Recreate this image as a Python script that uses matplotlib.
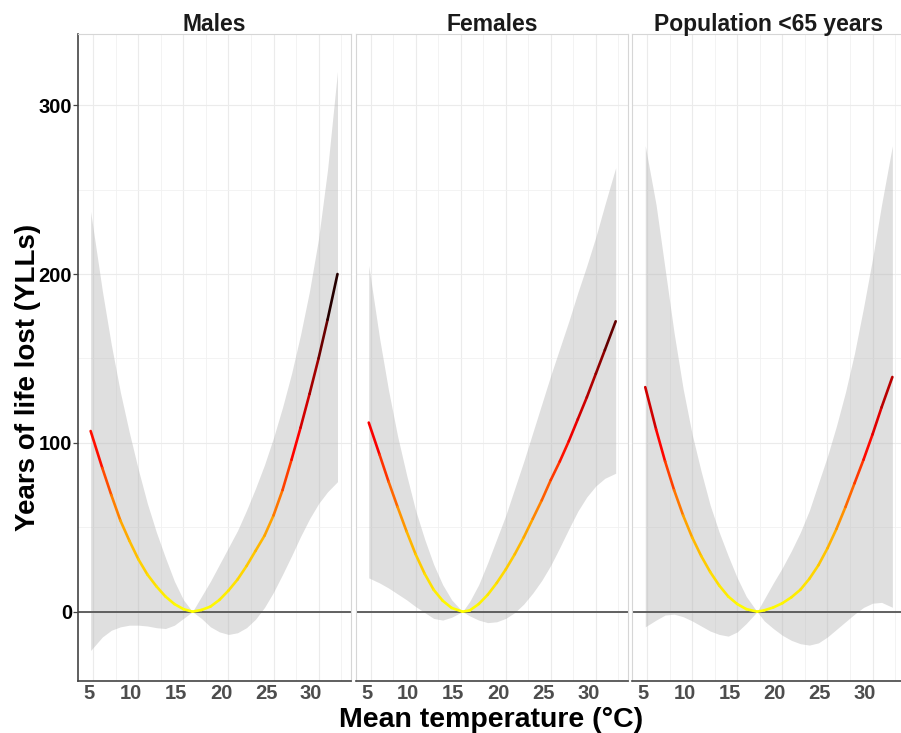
import numpy as np
import matplotlib
matplotlib.use('Agg')
import matplotlib.pyplot as plt
from matplotlib.collections import LineCollection
from matplotlib.colors import LinearSegmentedColormap
from matplotlib.ticker import MultipleLocator
import matplotlib.transforms as mtransforms

plt.rcParams['font.family'] = ['Liberation Sans', 'DejaVu Sans']

# 数据：每个面板的温度、YLL估计值和置信区间
panel_names = ['Males', 'Females', 'Population <65 years']

temp_m = [4.7, 6, 7, 8, 9, 10, 11, 12, 13, 14, 15, 16, 17, 18, 19, 20, 21, 22, 23, 24, 25, 26, 27, 28, 29, 30, 31, 32.1]
est_m = [107, 85, 69, 54, 42, 31, 22, 15, 9, 4.5, 1.5, 0, 1, 3, 7, 12.5, 19, 27, 36, 45, 57, 72, 90, 109, 129, 150, 173, 200]
low_m = [-23, -15, -11, -9, -8, -8, -8.5, -9.5, -10, -8, -4, 0, -4, -9, -12, -13.5, -12.5, -9.5, -4.5, 2.5, 11.5, 22, 33, 44.5, 55, 64, 71, 77]
high_m = [237, 190, 158, 130, 106, 84, 64, 47, 32, 18, 7, 0, 9, 18, 28, 38, 48, 60, 73, 87, 103, 121, 141, 164, 190, 221, 262, 320]

temp_f = [4.8, 6, 7, 8, 9, 10, 11, 12, 13, 14, 15.2, 16, 17, 18, 19, 20, 21, 22, 23, 24, 25, 26, 27, 28, 29, 30, 31, 32.2]
est_f = [112, 93, 77, 62, 47.5, 34, 22.5, 13, 6.5, 2.2, 0, 0.7, 4.5, 10, 17, 25, 34, 44, 55, 66, 78, 89, 101, 114, 127, 141, 155, 172]
low_f = [20, 17, 14, 10.5, 7, 3, -0.5, -4, -5, -3.3, 0, -2.5, -5, -6.5, -6, -4, -0.5, 4.5, 11, 18.5, 27.5, 38, 49, 59.5, 68, 74.5, 79, 82]
high_f = [205, 162, 131, 104, 81, 60, 43, 28, 16, 7, 0, 6, 16, 29, 43, 57, 73, 89, 106, 123, 140, 156, 172, 189, 205, 222, 241, 263]

temp_p = [4.8, 6, 7, 8, 9, 10, 11, 12, 13, 14, 15, 16, 17.2, 18, 19, 20, 21, 22, 23, 24, 25, 26, 27, 28, 29, 30, 31, 32.2]
est_p = [133, 108, 89, 72, 57, 44, 33, 23.5, 15.5, 9, 4.5, 1.5, 0, 0.8, 2.5, 5, 8.5, 13, 19.5, 27.5, 37.5, 49, 62, 76, 90, 105, 121, 139]
low_p = [-9, -5, -2, -1.5, -3, -5.5, -8.5, -11.5, -13.5, -14.5, -12, -7, 0, -5.5, -10, -14, -17, -19, -19.8, -18.5, -15, -10.5, -6, -1.5, 2.5, 5, 5.5, 2.6]
high_p = [276, 241, 203, 165, 132, 105, 83, 63, 47, 33, 20, 9, 0, 7.5, 17, 26, 36, 47, 60, 76, 92, 110, 130, 153, 180, 209, 241, 276]

temps = [temp_m, temp_f, temp_p]
ests = [est_m, est_f, est_p]
lows = [low_m, low_f, low_p]
highs = [high_m, high_f, high_p]

x_ticks = [5, 10, 15, 20, 25, 30]
y_ticks = [0, 100, 200, 300]

# 颜色渐变：黄 -> 橙 -> 红 -> 深红 -> 黑
cmap = LinearSegmentedColormap.from_list('yll', ['yellow', 'orange', 'red', 'darkred', 'black'])
norm = plt.Normalize(0, 200)

fig = plt.figure(figsize=(9.01, 7.33), dpi=100)

W, H = 901, 733
top_px, bottom_px = 34.3, 680.7
panel_px = [(78.3, 351.0), (355.5, 628.3), (632.0, 905.0)]

axes = []
for i, (l, r) in enumerate(panel_px):
    ax = fig.add_axes([l / W, (H - bottom_px) / H, (r - l) / W, (bottom_px - top_px) / H])
    axes.append(ax)

    ax.set_xlim(3.33, 33.6)
    ax.set_ylim(-40.9, 342.0)

    # 网格线
    ax.set_xticks(x_ticks)
    ax.xaxis.set_minor_locator(MultipleLocator(2.5))
    ax.set_yticks(y_ticks)
    ax.yaxis.set_minor_locator(MultipleLocator(50))
    ax.grid(which='major', color='#EBEBEB', linewidth=0.8)
    ax.grid(which='minor', color='#F1F1F1', linewidth=0.6)
    ax.set_axisbelow(True)

    # 置信区间
    ax.fill_between(temps[i], lows[i], highs[i], color='#B3B3B3', alpha=0.42, linewidth=0, zorder=1)
    ax.axhline(0, color='#555555', linewidth=1.3, zorder=2)

    # 渐变色曲线
    pts = np.column_stack([temps[i], ests[i]])
    segs = np.stack([pts[:-1], pts[1:]], axis=1)
    mid = (np.array(ests[i][:-1]) + np.array(ests[i][1:])) / 2
    lc = LineCollection(segs, cmap=cmap, norm=norm, linewidth=1.9, capstyle='round', zorder=3)
    lc.set_array(mid)
    ax.add_collection(lc)

    # 边框
    for side in ['top', 'right', 'left']:
        ax.spines[side].set_color('#D6D6D6')
        ax.spines[side].set_linewidth(0.8)
    ax.spines['bottom'].set_color('#444444')
    ax.spines['bottom'].set_linewidth(1.2)

    ax.tick_params(axis='x', which='both', length=0, pad=2.5, labelsize=14.5, labelcolor='#4D4D4D')
    for lab in ax.get_xticklabels():
        lab.set_fontweight('bold')
    if i == 0:
        ax.spines['left'].set_color('#444444')
        ax.spines['left'].set_linewidth(1.2)
        ax.tick_params(axis='y', which='major', length=3.5, width=0.9, color='#444444',
                       pad=1, labelsize=14.5, labelcolor='black')
        ax.tick_params(axis='y', which='minor', length=0)
        for lab in ax.get_yticklabels():
            lab.set_fontweight('bold')
    else:
        ax.tick_params(axis='y', which='both', length=0, labelleft=False)

    ax.text(0.5, 1 + 3 / (bottom_px - top_px), panel_names[i], transform=ax.transAxes,
            ha='center', va='baseline', fontsize=16.5, fontweight='bold', color='#1A1A1A')

fig.canvas.draw()
# x轴刻度标签稍微向左偏移
for ax in axes:
    for t in ax.xaxis.get_major_ticks():
        txt = t.label1.get_text()
        dx = -7.5 if len(txt) > 1 else -4
        off = mtransforms.ScaledTranslation(dx / 100, 0, fig.dpi_scale_trans)
        t.label1.set_transform(t.label1.get_transform() + off)

fig.text(491.5 / W, 1 - 727 / H, 'Mean temperature (°C)', ha='center', va='baseline',
         fontsize=20.5, fontweight='bold', color='black')
fig.text(35 / W, 1 - 377.5 / H, 'Years of life lost (YLLs)', rotation=90, rotation_mode='anchor',
         ha='center', va='baseline', fontsize=20, fontweight='bold', color='black')

fig.savefig('out.png', dpi=100)
